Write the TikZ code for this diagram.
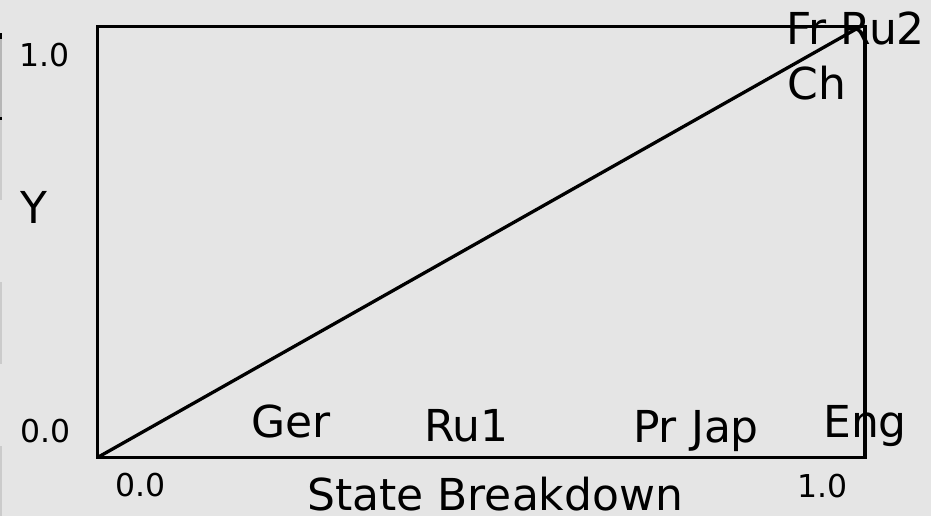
\documentclass[tikz,border=0pt]{standalone}
\usepackage{fontspec}
\setmainfont{DejaVu Sans}
\definecolor{bg}{HTML}{E5E5E5}
\definecolor{barA}{HTML}{B6B6B6}
\definecolor{barB}{HTML}{CBCBCB}
\tikzset{
  big/.style={anchor=base west, inner sep=0pt, font=\fontsize{44}{44}\selectfont},
  small/.style={anchor=base west, inner sep=0pt, font=\fontsize{31.5}{31.5}\selectfont},
  frame/.style={line width=3.3pt, line join=miter},
  diag/.style={line width=3.3pt, line cap=round},
}
\begin{document}
\begin{tikzpicture}[x=1pt,y=-1pt]
\fill[bg] (0,0) rectangle (931,516);
\useasboundingbox (0,0) rectangle (931,516);
% left-edge artifacts
\fill[barA] (0,33) rectangle (2.3,118);
\fill[black] (0,33) rectangle (2.3,39);
\fill[black] (0,117) rectangle (2.3,120);
\fill[barB] (0,120) rectangle (2.3,200);
\fill[barB] (0,282) rectangle (2.3,364);
\fill[barB] (0,446) rectangle (2.3,516);
% frame
\coordinate (o) at (97.5,457.5);
\coordinate (tl) at (97.5,26.5);
\coordinate (trc) at (865,26.5);
\coordinate (br) at (865,457.5);
\coordinate (tr) at (858,28);
\draw[frame] (o) -- (tl) -- (trc) -- (br) -- cycle;
\draw[diag] (o) -- (tr);
% tick labels
\node[small] (y1) at (19,67) {1.0};
\node[small] (y0) at (20,442) {0.0};
\node[small] (x0) at (115,496.5) {0.0};
\node[small] (x1) at (797,497) {1.0};
% axis labels
\node[big] (ylab) at (20,223) {Y};
\node[big] (xlab) at (307,510) {State Breakdown};
% point labels
\node[big] (ger) at (251,437) {Ger};
\node[big] (ru1) at (424,441.5) {Ru1};
\node[big] (prjap) at (633,442) {Pr Jap};
\node[big] (eng) at (823,437) {Eng};
\node[big] (frru2) at (786,45) {Fr Ru2};
\node[big] (ch) at (787.5,100) {Ch};
\end{tikzpicture}
\end{document}
